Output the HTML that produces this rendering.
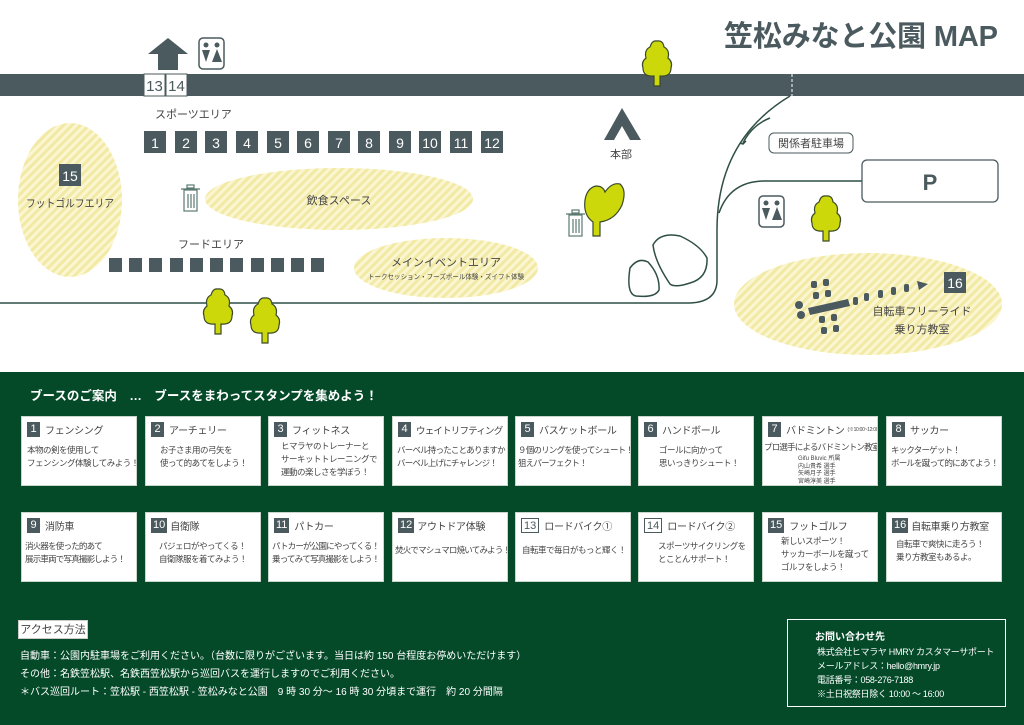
<!DOCTYPE html>
<html><head><meta charset="utf-8"><style>
*{margin:0;padding:0;box-sizing:border-box}
body{width:1024px;height:725px;overflow:hidden;background:#fff;font-family:"Liberation Sans","Noto Sans CJK JP",sans-serif;position:relative}
.g{position:absolute;left:0;top:372px;width:1024px;height:353px;background:#044a29}
.card{position:absolute;width:116px;height:70px;background:#fff;border:1px solid #c9d6cc;color:#444;font-size:8.5px;overflow:hidden}
.card .h{position:absolute;left:5px;top:5px;font-size:10px;white-space:nowrap;display:flex;align-items:center;letter-spacing:-0.3px}
.card .n{display:inline-block;background:#4a5a5e;color:#fff;min-width:13px;height:15px;line-height:15px;text-align:center;margin-right:5px;font-size:11px;padding:0 2px;letter-spacing:0}
.card .n.o{background:#fff;color:#4a5a5e;border:1px solid #4a5a5e}
.card .b{position:absolute;left:0;right:0;top:27px;line-height:13px;white-space:nowrap;letter-spacing:-0.5px}
.t{position:absolute;color:#fff;white-space:nowrap}
</style></head><body>
<svg width="1024" height="372" style="position:absolute;left:0;top:0" font-family="Liberation Sans,Noto Sans CJK JP,sans-serif">
<defs><pattern id="st" width="6" height="6" patternUnits="userSpaceOnUse" patternTransform="rotate(45)"><rect width="6" height="6" fill="#fbf6d2"/><rect width="3" height="6" fill="#f2e9a4"/></pattern></defs>
<text x="724" y="46" font-size="29" font-weight="bold" fill="#4a5a5e" textLength="274">笠松みなと公園 MAP</text>
<rect x="0" y="74" width="1024" height="22" fill="#4a5a5e"/>
<line x1="792" y1="74" x2="792" y2="96" stroke="#fff" stroke-dasharray="3,2"/>
<path d="M148 54 L168 38 L188 54 L178 54 L178 70 L158 70 L158 54Z" fill="#4a5a5e"/>
<rect x="144" y="74" width="21" height="22" fill="#fff" stroke="#4a5a5e"/><rect x="166" y="74" width="21" height="22" fill="#fff" stroke="#4a5a5e"/>
<text x="154.5" y="91" font-size="15" fill="#4a5a5e" text-anchor="middle">13</text><text x="176.5" y="91" font-size="15" fill="#4a5a5e" text-anchor="middle">14</text>
<g id="wc"><rect x="199" y="38" width="25" height="31" rx="4" fill="#fff" stroke="#4a5a5e" stroke-width="1.5"/><circle cx="206" cy="45" r="2.5" fill="#4a5a5e"/><circle cx="217" cy="45" r="2.5" fill="#4a5a5e"/><path d="M202 50h8l-4 12z M217 49l5 13h-10z" fill="#4a5a5e"/></g>
<use href="#wc" x="560" y="158"/>
<text x="155" y="118" font-size="11" fill="#444">スポーツエリア</text>
<g fill="#4a5a5e"><rect x="144" y="131" width="22" height="22"/><rect x="175" y="131" width="22" height="22"/><rect x="205" y="131" width="22" height="22"/><rect x="236" y="131" width="22" height="22"/><rect x="267" y="131" width="22" height="22"/><rect x="297" y="131" width="22" height="22"/><rect x="328" y="131" width="22" height="22"/><rect x="358" y="131" width="22" height="22"/><rect x="389" y="131" width="22" height="22"/><rect x="419" y="131" width="22" height="22"/><rect x="450" y="131" width="22" height="22"/><rect x="481" y="131" width="22" height="22"/></g>
<g fill="#fff" font-size="14" text-anchor="middle"><text x="155" y="148">1</text><text x="186" y="148">2</text><text x="216" y="148">3</text><text x="247" y="148">4</text><text x="278" y="148">5</text><text x="308" y="148">6</text><text x="339" y="148">7</text><text x="369" y="148">8</text><text x="400" y="148">9</text><text x="430" y="148">10</text><text x="461" y="148">11</text><text x="492" y="148">12</text></g>
<ellipse cx="70" cy="200" rx="52" ry="77" fill="url(#st)"/>
<ellipse cx="339" cy="199" rx="134" ry="31" fill="url(#st)"/>
<ellipse cx="446" cy="268" rx="92" ry="30" fill="url(#st)"/>
<ellipse cx="868" cy="304" rx="134" ry="51" fill="url(#st)"/>
<rect x="59" y="164" width="22" height="22" fill="#4a5a5e"/><text x="70" y="181" font-size="14" fill="#fff" text-anchor="middle">15</text>
<text x="70" y="207" font-size="11" fill="#444" text-anchor="middle" textLength="88" lengthAdjust="spacingAndGlyphs">フットゴルフエリア</text>
<text x="339" y="204" font-size="11" fill="#444" text-anchor="middle">飲食スペース</text>
<text x="446" y="266" font-size="11" fill="#444" text-anchor="middle">メインイベントエリア</text>
<text x="446" y="279" font-size="7" fill="#444" text-anchor="middle" textLength="156" lengthAdjust="spacingAndGlyphs">トークセッション・フーズボール体験・ズイフト体験</text>
<g id="tr" fill="none" stroke="#5b7a72" stroke-width="1.2"><rect x="184" y="190" width="13" height="21"/><line x1="181" y1="189" x2="200" y2="189"/><rect x="187" y="185" width="7" height="3"/><path d="M188 194v14M191 194v14M194 194v14"/></g>
<use href="#tr" x="385" y="25"/>
<text x="178" y="248" font-size="11" fill="#444">フードエリア</text>
<g fill="#4a5a5e"><rect x="109" y="258" width="13" height="14"/><rect x="129" y="258" width="13" height="14"/><rect x="149" y="258" width="13" height="14"/><rect x="170" y="258" width="13" height="14"/><rect x="190" y="258" width="13" height="14"/><rect x="210" y="258" width="13" height="14"/><rect x="230" y="258" width="13" height="14"/><rect x="251" y="258" width="13" height="14"/><rect x="271" y="258" width="13" height="14"/><rect x="291" y="258" width="13" height="14"/><rect x="311" y="258" width="13" height="14"/></g>
<g fill="none" stroke="#2f4f46" stroke-width="1.5">
<path d="M0 303 L690 303 Q717 302 717 280 L717 230 Q717 140 790 96"/>
<path d="M719 213 Q730 181 765 181 L862 181"/>
<path d="M770 118 Q752 125 743 143"/>
<path d="M630 268 Q638 257 648 262 Q660 275 659 290 Q655 298 636 296 Q626 294 630 268Z"/>
<path d="M653 245 Q660 232 680 236 Q700 245 707 258 Q708 278 690 283 Q675 288 670 284 Q655 262 653 245Z"/>
</g>
<path d="M740 143l3 1 3-3" fill="none" stroke="#2f4f46" stroke-width="1.5"/>
<path d="M604 140 L622 108 L641 140 L630 140 L622 126 L614 140Z" fill="#4a5a5e"/>
<text x="621" y="158" font-size="11" fill="#444" text-anchor="middle">本部</text>
<rect x="769" y="133" width="84" height="20" rx="5" fill="#fff" stroke="#4a5a5e"/><text x="811" y="147" font-size="11" fill="#444" text-anchor="middle">関係者駐車場</text>
<rect x="862" y="160" width="136" height="42" rx="5" fill="#fff" stroke="#4a5a5e" stroke-width="1.3"/><text x="930" y="190" font-size="22" font-weight="bold" fill="#4a5a5e" text-anchor="middle">P</text>
<g id="tree" fill="#cdd80a" stroke="#3a4a2a" stroke-width="1.2"><path d="M654 86 L654 76 Q643 77 643 68 Q641 62 646 58 Q644 50 650 47 Q652 40 657 41 Q663 40 664 47 Q670 50 668 58 Q673 62 671 68 Q671 77 660 76 L660 86Z"/></g>
<use href="#tree" x="-439" y="248"/><use href="#tree" x="-392" y="257"/><use href="#tree" x="169" y="155"/>
<path d="M593 236 L593 222 Q583 215 585 200 Q587 188 596 186 Q603 186 605 192 Q612 182 620 184 Q627 190 622 205 Q615 220 600 222 L600 236Z" fill="#cdd80a" stroke="#3a4a2a" stroke-width="1.2"/>
<g fill="#4a5a5e"><rect x="811" y="281" width="6" height="7" rx="2"/><rect x="823" y="279" width="6" height="7" rx="2"/><rect x="813" y="292" width="6" height="7" rx="2"/><rect x="825" y="290" width="6" height="7" rx="2"/><circle cx="799" cy="305" r="4"/><circle cx="801" cy="315" r="4"/><path d="M808 308 L848 299 L850 306 L810 315Z"/><rect x="819" y="316" width="6" height="7" rx="2"/><rect x="831" y="314" width="6" height="7" rx="2"/><rect x="821" y="327" width="6" height="7" rx="2"/><rect x="833" y="325" width="6" height="7" rx="2"/><rect x="853" y="297" width="5" height="8" rx="2"/><rect x="864" y="293" width="5" height="8" rx="2"/><rect x="878" y="290" width="5" height="8" rx="2"/><rect x="891" y="287" width="5" height="8" rx="2"/><rect x="904" y="284" width="5" height="8" rx="2"/><path d="M917 281 L928 284 L919 290Z"/></g>
<rect x="944" y="272" width="22" height="21" fill="#4a5a5e"/><text x="955" y="288" font-size="14" fill="#fff" text-anchor="middle">16</text>
<text x="922" y="315" font-size="11" fill="#444" text-anchor="middle">自転車フリーライド</text>
<text x="922" y="333" font-size="11" fill="#444" text-anchor="middle">乗り方教室</text>
</svg>
<div class="g"></div>
<div class="t" style="left:30px;top:385px;font-size:12.5px;font-weight:bold">ブースのご案内　…　ブースをまわってスタンプを集めよう！</div>

<div class="card" style="left:21px;top:416px"><div class="h"><span class="n">1</span>フェンシング</div><div class="b" style="padding-left:5px">本物の剣を使用して<br>フェンシング体験してみよう！</div></div>
<div class="card" style="left:145px;top:416px"><div class="h"><span class="n">2</span>アーチェリー</div><div class="b" style="padding-left:14px">お子さま用の弓矢を<br>使って的あてをしよう！</div></div>
<div class="card" style="left:268px;top:416px"><div class="h"><span class="n">3</span>フィットネス</div><div class="b" style="top:23px;padding-left:12px">ヒマラヤのトレーナーと<br>サーキットトレーニングで<br>運動の楽しさを学ぼう！</div></div>
<div class="card" style="left:392px;top:416px"><div class="h" style="font-size:9.5px;letter-spacing:-0.8px"><span class="n">4</span>ウェイトリフティング</div><div class="b" style="padding-left:4px;letter-spacing:-0.8px">バーベル持ったことありますか？<br>バーベル上げにチャレンジ！</div></div>
<div class="card" style="left:515px;top:416px"><div class="h"><span class="n">5</span>バスケットボール</div><div class="b" style="padding-left:2px;letter-spacing:-0.8px">９個のリングを使ってシュート！<br>狙えパーフェクト！</div></div>
<div class="card" style="left:638px;top:416px"><div class="h"><span class="n">6</span>ハンドボール</div><div class="b" style="padding-left:20px">ゴールに向かって<br>思いっきりシュート！</div></div>
<div class="card" style="left:762px;top:416px"><div class="h"><span class="n">7</span>バドミントン<span style="font-size:5px;margin-left:3px">(※10:00~12:00)</span></div><div class="b" style="top:24px;font-size:8.5px;padding-left:1px;letter-spacing:-0.8px">プロ選手によるバドミントン教室</div><div class="b" style="top:39px;font-size:6px;line-height:7.5px;padding-left:35px;letter-spacing:0">Gifu Bluvic 所属<br>内山貴希 選手<br>矢崎月子 選手<br>宮崎淳美 選手</div></div>
<div class="card" style="left:886px;top:416px"><div class="h"><span class="n">8</span>サッカー</div><div class="b" style="padding-left:4px;letter-spacing:-0.8px">キックターゲット！<br>ボールを蹴って的にあてよう！</div></div>

<div class="card" style="left:21px;top:512px"><div class="h"><span class="n">9</span>消防車</div><div class="b" style="padding-left:3px;letter-spacing:-0.8px">消火器を使った的あて<br>展示車両で写真撮影しよう！</div></div>
<div class="card" style="left:145px;top:512px"><div class="h"><span class="n" style="margin-right:3px">10</span>自衛隊</div><div class="b" style="padding-left:13px">パジェロがやってくる！<br>自衛隊服を着てみよう！</div></div>
<div class="card" style="left:268px;top:512px"><div class="h"><span class="n">11</span>パトカー</div><div class="b" style="padding-left:3px;letter-spacing:-0.8px">パトカーが公園にやってくる！<br>乗ってみて写真撮影をしよう！</div></div>
<div class="card" style="left:392px;top:512px"><div class="h"><span class="n" style="margin-right:3px">12</span>アウトドア体験</div><div class="b" style="top:31px;padding-left:2px;letter-spacing:-0.8px">焚火でマシュマロ焼いてみよう！</div></div>
<div class="card" style="left:515px;top:512px"><div class="h"><span class="n o">13</span>ロードバイク①</div><div class="b" style="top:31px;padding-left:6px">自転車で毎日がもっと輝く！</div></div>
<div class="card" style="left:638px;top:512px"><div class="h"><span class="n o">14</span>ロードバイク②</div><div class="b" style="padding-left:19px">スポーツサイクリングを<br>とことんサポート！</div></div>
<div class="card" style="left:762px;top:512px"><div class="h"><span class="n">15</span>フットゴルフ</div><div class="b" style="top:22px;padding-left:18px">新しいスポーツ！<br>サッカーボールを蹴って<br>ゴルフをしよう！</div></div>
<div class="card" style="left:886px;top:512px"><div class="h"><span class="n" style="margin-right:3px">16</span>自転車乗り方教室</div><div class="b" style="top:25px;padding-left:9px">自転車で爽快に走ろう！<br>乗り方教室もあるよ。</div></div>

<div style="position:absolute;left:18px;top:620px;width:70px;height:19px;background:#fff;border:1px solid #ccc;color:#444;font-size:11px;line-height:18px;text-align:center">アクセス方法</div>
<div class="t" style="left:20px;top:648px;font-size:10px;line-height:18px">自動車：公園内駐車場をご利用ください。（台数に限りがございます。当日は約 150 台程度お停めいただけます）<br>その他：名鉄笠松駅、名鉄西笠松駅から巡回バスを運行しますのでご利用ください。<br>＊バス巡回ルート：笠松駅 - 西笠松駅 - 笠松みなと公園　9 時 30 分～ 16 時 30 分頃まで運行　約 20 分間隔</div>
<div style="position:absolute;left:787px;top:619px;width:219px;height:88px;border:1.5px solid #fff"></div>
<div class="t" style="left:815px;top:628px;font-size:10px;font-weight:bold">お問い合わせ先</div>
<div class="t" style="left:817px;top:645px;font-size:9px;line-height:14px;letter-spacing:-0.3px">株式会社ヒマラヤ HMRY カスタマーサポート<br>メールアドレス：hello@hmry.jp<br>電話番号：058-276-7188<br>※土日祝祭日除く 10:00 ～ 16:00</div>
</body></html>
